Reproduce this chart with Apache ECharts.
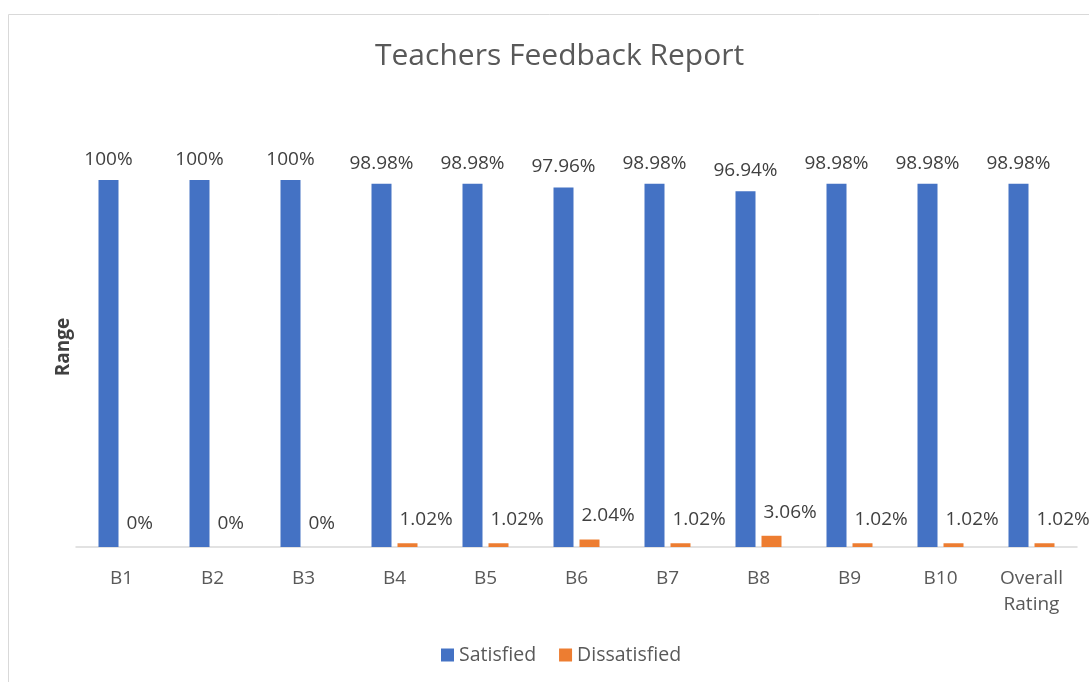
<!DOCTYPE html>
<html>
<head>
<meta charset="utf-8">
<script src="https://cdn.jsdelivr.net/npm/echarts@6/dist/echarts.min.js"></script>
<style>
  html, body { margin: 0; padding: 0; background: #fff; }
  #chart { width: 1089px; height: 682px; }
</style>
</head>
<body>
<div id="chart"></div>
<script>
var categories = ['B1', 'B2', 'B3', 'B4', 'B5', 'B6', 'B7', 'B8', 'B9', 'B10', 'Overall\nRating'];
var satisfied = [100, 100, 100, 98.98, 98.98, 97.96, 98.98, 96.94, 98.98, 98.98, 98.98];
var dissatisfied = [0, 0, 0, 1.02, 1.02, 2.04, 1.02, 3.06, 1.02, 1.02, 1.02];

var chartDom = document.getElementById('chart');
var myChart = echarts.init(chartDom);
var font = 'Open Sans';

var option = {
  animation: false,
  textStyle: { fontFamily: font },
  graphic: [
    {
      type: 'rect',
      shape: { x: 8.5, y: 14.5, width: 1200, height: 800 },
      style: { fill: 'none', stroke: '#d9d9d9', lineWidth: 1 }
    }
  ],
  title: {
    text: 'Teachers Feedback Report',
    left: 370,
    top: 36,
    textStyle: { fontFamily: font, fontSize: 30, fontWeight: 'normal', color: '#595959' }
  },
  legend: {
    bottom: 12,
    left: 436,
    itemWidth: 13,
    itemHeight: 13,
    itemGap: 23,
    icon: 'rect',
    textStyle: { fontFamily: font, fontSize: 19.5, color: '#595959' },
    data: ['Satisfied', 'Dissatisfied']
  },
  grid: { left: 76, right: 12, top: 180, bottom: 135 },
  xAxis: {
    type: 'category',
    data: categories,
    axisLine: { lineStyle: { color: '#d9d9d9', width: 1.5 } },
    axisTick: { show: false },
    axisLabel: { fontFamily: font, fontSize: 19, color: '#595959', margin: 19, lineHeight: 26 }
  },
  yAxis: {
    type: 'value',
    min: 0,
    max: 100,
    name: 'Range',
    nameLocation: 'middle',
    nameGap: 3,
    nameTextStyle: { fontFamily: font, fontSize: 19, fontWeight: 'bold', color: '#404040', padding: [0, 0, 0, 33] },
    axisLine: { show: false },
    axisTick: { show: false },
    axisLabel: { show: false },
    splitLine: { show: false }
  },
  series: [
    {
      name: 'Satisfied',
      type: 'bar',
      data: satisfied,
      barWidth: 20,
      barGap: '30%',
      itemStyle: { color: '#4472C4' },
      label: {
        show: true,
        position: 'top',
        distance: 11,
        formatter: function (p) { return p.value + '%'; },
        fontFamily: font,
        fontSize: 19,
        color: '#404040'
      }
    },
    {
      name: 'Dissatisfied',
      type: 'bar',
      data: dissatisfied,
      barWidth: 20,
      itemStyle: { color: '#ED7D31' },
      label: {
        show: true,
        position: 'top',
        distance: 5,
        align: 'left',
        offset: [-8, -9],
        formatter: function (p) { return p.value + '%'; },
        fontFamily: font,
        fontSize: 19,
        color: '#404040'
      }
    }
  ]
};

option && myChart.setOption(option);
</script>
</body>
</html>
